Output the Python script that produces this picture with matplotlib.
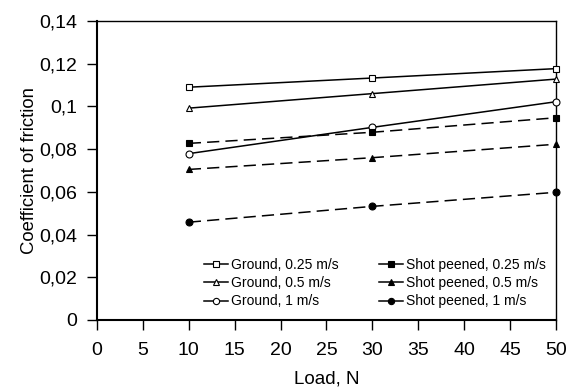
import numpy as np
import matplotlib
matplotlib.use("Agg")
import matplotlib.pyplot as plt
from matplotlib.lines import Line2D
from matplotlib.ticker import FuncFormatter

plt.rcParams['font.family'] = ['Liberation Sans', 'DejaVu Sans']

load = [10, 30, 50]
ground_025 = [0.109, 0.1133, 0.1177]
ground_05 = [0.0992, 0.106, 0.1128]
ground_1 = [0.0779, 0.0902, 0.1022]
shot_025 = [0.0827, 0.0879, 0.0947]
shot_05 = [0.0705, 0.076, 0.0823]
shot_1 = [0.0458, 0.0532, 0.0598]

series = [
    ("Ground, 0.25 m/s", ground_025, 's', 'white', '-'),
    ("Ground, 0.5 m/s", ground_05, '^', 'white', '-'),
    ("Ground, 1 m/s", ground_1, 'o', 'white', '-'),
    ("Shot peened, 0.25 m/s", shot_025, 's', 'black', (0, (8, 4))),
    ("Shot peened, 0.5 m/s", shot_05, '^', 'black', (0, (8, 4))),
    ("Shot peened, 1 m/s", shot_1, 'o', 'black', (0, (8, 4))),
]

fig = plt.figure(figsize=(5.74, 3.89), dpi=100)
ax = fig.add_axes([0.169, 0.1774, 0.7996, 0.7686])

handles = []
for label, vals, mk, fc, ls in series:
    ax.plot(load, vals, color='black', lw=1.1, linestyle=ls, marker=mk,
            markersize=5, markerfacecolor=fc, markeredgecolor='black',
            markeredgewidth=0.8, clip_on=False, zorder=3)
    handles.append(Line2D([], [], color='black', lw=1.1, linestyle='-', marker=mk,
                          markersize=4.5, markerfacecolor=fc,
                          markeredgecolor='black', markeredgewidth=0.8,
                          label=label))

ax.set_xlim(0, 50)
ax.set_ylim(0, 0.14)
ax.set_xticks(np.arange(0, 51, 5))
ax.set_yticks(np.arange(0, 0.141, 0.02))


def comma_fmt(v, pos):
    s = "%g" % round(v, 4)
    return s.replace('.', ',')


ax.yaxis.set_major_formatter(FuncFormatter(comma_fmt))
ax.tick_params(direction='out', length=7, width=1, labelsize=14, pad=7)
ax.tick_params(axis='x', pad=9)
for sp in ax.spines.values():
    sp.set_linewidth(1)
ax.spines['left'].set_linewidth(1.5)
ax.spines['bottom'].set_linewidth(1.5)

ax.set_xlabel("Load, N", fontsize=13.5, labelpad=8)
ax.set_ylabel("Coefficient of friction", fontsize=13.3, labelpad=1)

ax.legend(handles=handles, ncol=2, frameon=False, fontsize=10,
          loc='lower left', bbox_to_anchor=(0.222, 0.02),
          handlelength=1.7, handletextpad=0.2, columnspacing=2.95,
          labelspacing=0.3, borderaxespad=0)

fig.savefig("out.png", dpi=100)
